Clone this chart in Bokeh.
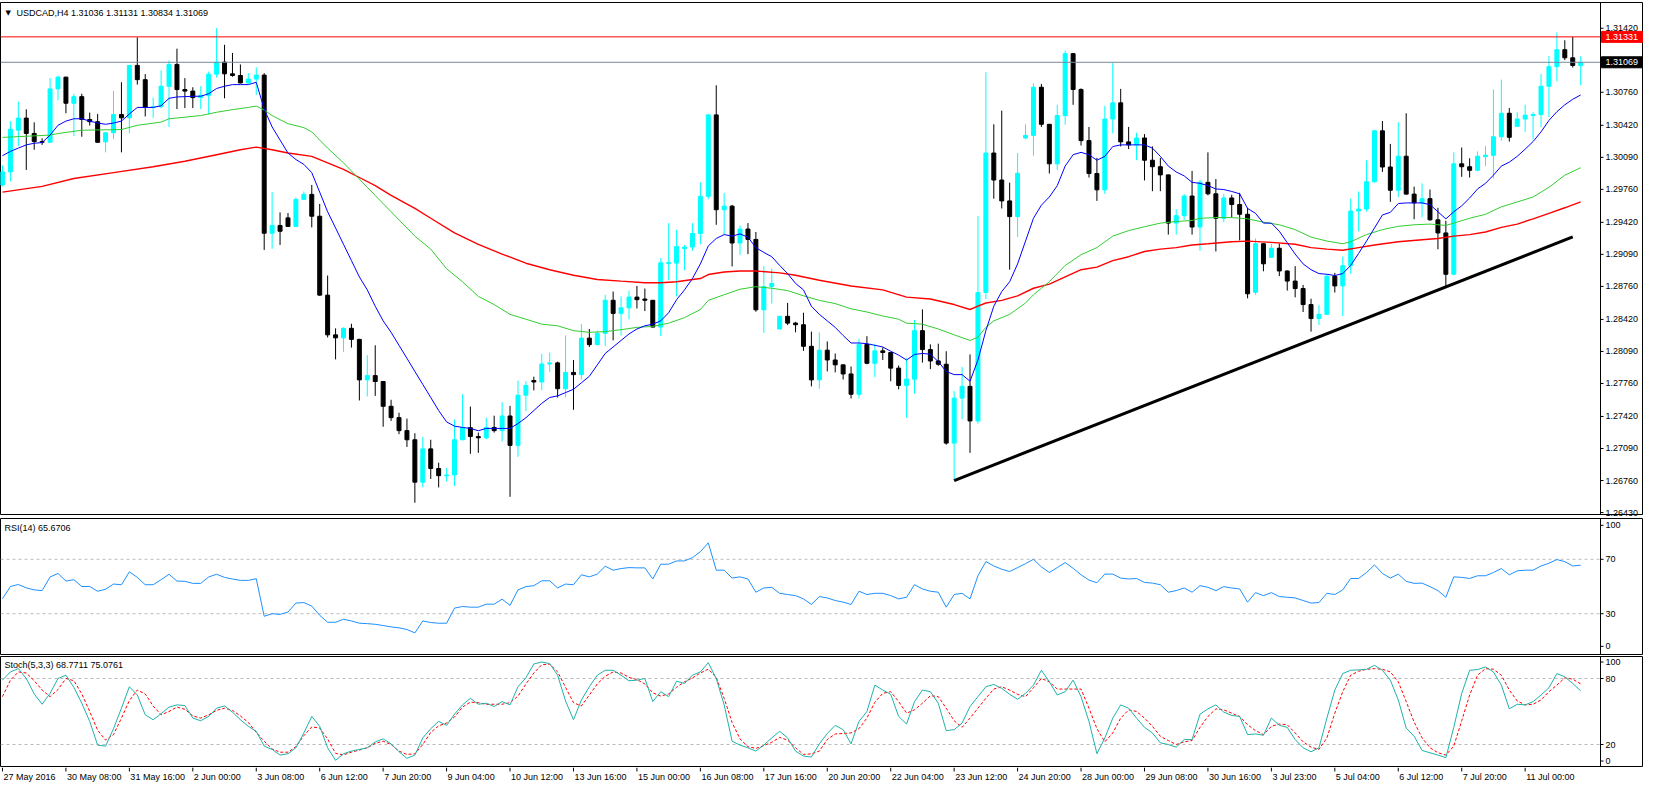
from bokeh.plotting import figure
from bokeh.models import Range1d, FixedTicker, PrintfTickFormatter, Span, Label, ColumnDataSource
from bokeh.layouts import column
from bokeh.embed import file_html
from bokeh.resources import INLINE
from bokeh.core.properties import value

# ---------------- data (USDCAD H4) ----------------
opens = [
1.29805, 1.29940, 1.30370, 1.30494, 1.30336, 1.30252, 1.30245, 1.30795, 1.30916, 1.30647,
1.30715, 1.30480, 1.30457, 1.30250, 1.30343, 1.30531, 1.30497, 1.31037, 1.30890, 1.30604,
1.30611, 1.30822, 1.31047, 1.30788, 1.30772, 1.30705, 1.30728, 1.30947, 1.31071, 1.30950,
1.30933, 1.30856, 1.30896, 1.30937, 1.29308, 1.29388, 1.29466, 1.29378, 1.29657, 1.29708,
1.29483, 1.28670, 1.28261, 1.28230, 1.28328, 1.28214, 1.27797, 1.27841, 1.27780, 1.27525,
1.27408, 1.27274, 1.27180, 1.26743, 1.27086, 1.26884, 1.26810, 1.26817, 1.27180, 1.27304,
1.27213, 1.27200, 1.27307, 1.27274, 1.27425, 1.27122, 1.27639, 1.27790, 1.27775, 1.27961,
1.27972, 1.27706, 1.27874, 1.27851, 1.28227, 1.28160, 1.28277, 1.28617, 1.28482, 1.28539,
1.28650, 1.28630, 1.28617, 1.28341, 1.28995, 1.29000, 1.29150, 1.29165, 1.29305, 1.29688,
1.30527, 1.29550, 1.29587, 1.29207, 1.29351, 1.29244, 1.28519, 1.28758, 1.28321, 1.28452,
1.28382, 1.28365, 1.28143, 1.27797, 1.28103, 1.28002, 1.27952, 1.27858, 1.27649, 1.28163,
1.27968, 1.28096, 1.28079, 1.27918, 1.27740, 1.27804, 1.28304, 1.28109, 1.27992, 1.27958,
1.27146, 1.27609, 1.27730, 1.27374, 1.28697, 1.30134, 1.29856, 1.29641, 1.29479, 1.30289,
1.30316, 1.30812, 1.30430, 1.30023, 1.30520, 1.31158, 1.30789, 1.30262, 1.29923, 1.29755,
1.30484, 1.30651, 1.30249, 1.30218, 1.30289, 1.30060, 1.29993, 1.29909, 1.29412, 1.29489,
1.29691, 1.29372, 1.29832, 1.29714, 1.29462, 1.29671, 1.29604, 1.29503, 1.28700, 1.29200,
1.29060, 1.29153, 1.28919, 1.28815, 1.28738, 1.28573, 1.28429, 1.28472, 1.28865, 1.28765,
1.28973, 1.29536, 1.29557, 1.29839, 1.30363, 1.29990, 1.29751, 1.30101, 1.29711, 1.29621,
1.29664, 1.29446, 1.29311, 1.28885, 1.30023, 1.29993, 1.29956, 1.30097, 1.30111, 1.30302,
1.30544, 1.30410, 1.30484, 1.30520, 1.30530, 1.30822, 1.31024, 1.31199, 1.31115, 1.31036,
]
highs = [
1.30007, 1.30464, 1.30664, 1.30584, 1.30450, 1.30286, 1.30906, 1.30930, 1.30920, 1.30745,
1.30745, 1.30551, 1.30537, 1.30350, 1.30775, 1.30863, 1.31040, 1.31326, 1.30947, 1.30705,
1.30987, 1.31088, 1.31209, 1.30906, 1.30812, 1.30822, 1.30974, 1.31420, 1.31249, 1.31165,
1.31047, 1.30957, 1.31017, 1.30957, 1.29731, 1.29523, 1.29516, 1.29677, 1.29738, 1.29805,
1.29610, 1.28872, 1.28328, 1.28338, 1.28375, 1.28220, 1.28052, 1.28153, 1.27785, 1.27592,
1.27458, 1.27398, 1.27247, 1.27210, 1.27180, 1.26944, 1.26887, 1.27388, 1.27649, 1.27522,
1.27254, 1.27408, 1.27428, 1.27569, 1.27529, 1.27790, 1.27783, 1.27830, 1.28066, 1.28079,
1.27985, 1.28254, 1.28002, 1.28372, 1.28321, 1.28304, 1.28674, 1.28707, 1.28657, 1.28717,
1.28765, 1.28738, 1.28620, 1.29050, 1.29412, 1.29345, 1.29187, 1.29412, 1.29832, 1.30537,
1.30832, 1.29721, 1.29600, 1.29388, 1.29412, 1.29321, 1.28969, 1.28943, 1.28455, 1.28590,
1.28395, 1.28489, 1.28294, 1.28287, 1.28193, 1.28069, 1.27955, 1.27935, 1.28220, 1.28247,
1.28170, 1.28130, 1.28082, 1.27945, 1.28019, 1.28415, 1.28523, 1.28163, 1.28170, 1.28092,
1.27683, 1.27931, 1.28059, 1.29486, 1.30967, 1.30430, 1.30571, 1.29829, 1.30134, 1.30430,
1.30853, 1.30846, 1.30433, 1.30631, 1.31189, 1.31165, 1.30800, 1.30403, 1.30084, 1.30621,
1.31064, 1.30795, 1.30403, 1.30343, 1.30329, 1.30202, 1.30084, 1.29912, 1.29556, 1.29711,
1.29950, 1.29856, 1.30141, 1.29866, 1.29714, 1.29704, 1.29724, 1.29570, 1.29254, 1.29203,
1.29200, 1.29200, 1.28926, 1.28969, 1.28775, 1.28633, 1.28566, 1.28885, 1.28899, 1.29066,
1.29664, 1.29738, 1.30060, 1.30369, 1.30464, 1.30228, 1.30453, 1.30544, 1.29788, 1.29822,
1.29758, 1.29570, 1.29436, 1.30141, 1.30191, 1.30080, 1.30151, 1.30208, 1.30789, 1.30890,
1.30597, 1.30554, 1.30631, 1.30554, 1.30947, 1.31135, 1.31377, 1.31296, 1.31331, 1.31131,
]
lows = [
1.29792, 1.29842, 1.30208, 1.29960, 1.30168, 1.30218, 1.30240, 1.30678, 1.30544, 1.30309,
1.30302, 1.30417, 1.30240, 1.30141, 1.30276, 1.30141, 1.30336, 1.30839, 1.30511, 1.30497,
1.30597, 1.30403, 1.30587, 1.30597, 1.30597, 1.30587, 1.30531, 1.30913, 1.30698, 1.30920,
1.30852, 1.30850, 1.30732, 1.29136, 1.29147, 1.29187, 1.29375, 1.29375, 1.29650, 1.29368,
1.28664, 1.28234, 1.28008, 1.28086, 1.28130, 1.27585, 1.27626, 1.27632, 1.27314, 1.27374,
1.27237, 1.27106, 1.26531, 1.26689, 1.26776, 1.26689, 1.26750, 1.26703, 1.27175, 1.27035,
1.27045, 1.27186, 1.27254, 1.27163, 1.26592, 1.27005, 1.27475, 1.27689, 1.27689, 1.27878,
1.27616, 1.27616, 1.27489, 1.27800, 1.28136, 1.28155, 1.28143, 1.28204, 1.28254, 1.28422,
1.28533, 1.28506, 1.28338, 1.28247, 1.28825, 1.28657, 1.28926, 1.29126, 1.29194, 1.29657,
1.29395, 1.29294, 1.28966, 1.29086, 1.29093, 1.28499, 1.28281, 1.28583, 1.28318, 1.28362,
1.28287, 1.28096, 1.27730, 1.27706, 1.27884, 1.27874, 1.27800, 1.27605, 1.27605, 1.27958,
1.27824, 1.28002, 1.27783, 1.27700, 1.27408, 1.27656, 1.27975, 1.27908, 1.27942, 1.27129,
1.26760, 1.27391, 1.27045, 1.27347, 1.28630, 1.29664, 1.29563, 1.28932, 1.29268, 1.30276,
1.30107, 1.30403, 1.29923, 1.29960, 1.30427, 1.30631, 1.30212, 1.29882, 1.29641, 1.29714,
1.30336, 1.30202, 1.30175, 1.30060, 1.29852, 1.29741, 1.29741, 1.29294, 1.29294, 1.29446,
1.29294, 1.29126, 1.29698, 1.29120, 1.29422, 1.29469, 1.29234, 1.28637, 1.28674, 1.28916,
1.29055, 1.28866, 1.28717, 1.28647, 1.28496, 1.28294, 1.28362, 1.28465, 1.28697, 1.28455,
1.28892, 1.29328, 1.29530, 1.29829, 1.29940, 1.29631, 1.29681, 1.29705, 1.29452, 1.29472,
1.29436, 1.29143, 1.28758, 1.28875, 1.29889, 1.29882, 1.29946, 1.30000, 1.29872, 1.30262,
1.30252, 1.30403, 1.30353, 1.30276, 1.30403, 1.30504, 1.30873, 1.31091, 1.31015, 1.30834,
]
closes = [
1.29940, 1.30380, 1.30494, 1.30336, 1.30252, 1.30245, 1.30795, 1.30916, 1.30647, 1.30715,
1.30480, 1.30457, 1.30245, 1.30343, 1.30531, 1.30497, 1.31037, 1.30890, 1.30604, 1.30611,
1.30822, 1.31047, 1.30788, 1.30772, 1.30705, 1.30728, 1.30947, 1.31071, 1.30950, 1.30933,
1.30856, 1.30896, 1.30937, 1.29308, 1.29388, 1.29328, 1.29378, 1.29657, 1.29708, 1.29483,
1.28670, 1.28261, 1.28230, 1.28328, 1.28214, 1.27797, 1.27841, 1.27780, 1.27525, 1.27408,
1.27274, 1.27180, 1.26743, 1.27086, 1.26884, 1.26810, 1.26817, 1.27180, 1.27304, 1.27213,
1.27200, 1.27307, 1.27274, 1.27425, 1.27122, 1.27639, 1.27740, 1.27775, 1.27961, 1.27972,
1.27706, 1.27874, 1.27851, 1.28227, 1.28160, 1.28277, 1.28617, 1.28482, 1.28539, 1.28650,
1.28623, 1.28617, 1.28341, 1.29003, 1.29006, 1.29170, 1.29165, 1.29305, 1.29688, 1.30527,
1.29550, 1.29587, 1.29207, 1.29351, 1.29244, 1.28519, 1.28758, 1.28791, 1.28452, 1.28382,
1.28365, 1.28143, 1.27797, 1.28103, 1.28002, 1.27952, 1.27858, 1.27649, 1.28163, 1.27968,
1.28096, 1.28079, 1.27918, 1.27740, 1.27804, 1.28304, 1.28109, 1.27992, 1.27958, 1.27146,
1.27609, 1.27730, 1.27374, 1.28697, 1.30134, 1.29856, 1.29641, 1.29479, 1.29926, 1.30316,
1.30812, 1.30430, 1.30023, 1.30520, 1.31158, 1.30789, 1.30262, 1.29923, 1.29755, 1.30484,
1.30651, 1.30249, 1.30218, 1.30289, 1.30060, 1.29993, 1.29909, 1.29412, 1.29489, 1.29691,
1.29372, 1.29832, 1.29714, 1.29462, 1.29671, 1.29604, 1.29503, 1.28684, 1.29200, 1.28993,
1.29153, 1.28919, 1.28815, 1.28738, 1.28573, 1.28429, 1.28472, 1.28865, 1.28765, 1.28973,
1.29536, 1.29557, 1.29839, 1.30363, 1.29990, 1.29751, 1.30101, 1.29711, 1.29621, 1.29664,
1.29446, 1.29311, 1.28885, 1.30023, 1.29993, 1.29956, 1.30101, 1.30111, 1.30302, 1.30544,
1.30296, 1.30484, 1.30524, 1.30530, 1.30822, 1.31024, 1.31199, 1.31115, 1.31036, 1.31069,
]

# fast moving average (blue), one value per bar
ma_fast = [
1.30107, 1.30151, 1.30185, 1.30218, 1.30235, 1.30242, 1.30319, 1.30420, 1.30463, 1.30487,
1.30487, 1.30463, 1.30443, 1.30430, 1.30443, 1.30463, 1.30537, 1.30604, 1.30604, 1.30604,
1.30621, 1.30698, 1.30712, 1.30715, 1.30719, 1.30719, 1.30745, 1.30799, 1.30822, 1.30839,
1.30839, 1.30839, 1.30863, 1.30587, 1.30403, 1.30268, 1.30134, 1.30067, 1.30017, 1.29932,
1.29731, 1.29529, 1.29362, 1.29194, 1.29026, 1.28858, 1.28724, 1.28556, 1.28405, 1.28287,
1.28153, 1.28019, 1.27884, 1.27750, 1.27616, 1.27481, 1.27364, 1.27320, 1.27307, 1.27297,
1.27273, 1.27297, 1.27297, 1.27297, 1.27297, 1.27347, 1.27407, 1.27481, 1.27555, 1.27616,
1.27632, 1.27666, 1.27700, 1.27767, 1.27834, 1.27951, 1.28069, 1.28136, 1.28203, 1.28270,
1.28321, 1.28354, 1.28371, 1.28405, 1.28489, 1.28623, 1.28724, 1.28841, 1.28992, 1.29177,
1.29254, 1.29294, 1.29278, 1.29301, 1.29267, 1.29160, 1.29110, 1.29066, 1.28976, 1.28892,
1.28791, 1.28724, 1.28556, 1.28472, 1.28405, 1.28338, 1.28254, 1.28177, 1.28177, 1.28170,
1.28153, 1.28136, 1.28092, 1.28052, 1.28002, 1.28059, 1.28069, 1.28062, 1.27985, 1.27884,
1.27851, 1.27851, 1.27783, 1.28002, 1.28304, 1.28556, 1.28707, 1.28808, 1.28992, 1.29227,
1.29462, 1.29597, 1.29681, 1.29798, 1.30000, 1.30117, 1.30141, 1.30117, 1.30060, 1.30100,
1.30201, 1.30218, 1.30218, 1.30218, 1.30218, 1.30185, 1.30100, 1.30000, 1.29939, 1.29899,
1.29832, 1.29822, 1.29798, 1.29764, 1.29758, 1.29738, 1.29714, 1.29563, 1.29513, 1.29412,
1.29412, 1.29328, 1.29210, 1.29093, 1.28992, 1.28932, 1.28892, 1.28885, 1.28872, 1.28892,
1.28976, 1.29100, 1.29227, 1.29362, 1.29496, 1.29523, 1.29614, 1.29620, 1.29620, 1.29620,
1.29603, 1.29529, 1.29456, 1.29529, 1.29590, 1.29671, 1.29764, 1.29822, 1.29906, 1.30000,
1.30040, 1.30100, 1.30174, 1.30252, 1.30352, 1.30470, 1.30560, 1.30631, 1.30688, 1.30732,
]

# medium moving average (green), read at these bars
ma_mid_bars = [0, 6, 7, 10, 15, 17, 20, 21, 25, 27, 29, 31, 32, 33, 34, 36, 38, 39, 40, 41,
               43, 45, 47, 49, 51, 52, 54, 56, 58, 60, 62, 64, 66, 68, 70, 72, 74, 76, 78, 80,
               82, 84, 86, 88, 89, 91, 93, 95, 97, 99, 101, 103, 105, 107, 109, 111, 113, 114, 116, 118,
               120, 122, 123, 124, 125, 127, 129, 130, 131, 132, 133, 134, 136, 138, 140, 142, 144, 146, 148, 150,
               151, 153, 155, 157, 159, 161, 163, 165, 167, 169, 170, 172, 174, 176, 178, 180, 182, 183, 185, 187,
               189, 191, 193, 195, 197, 199]
ma_mid = [1.30295, 1.30319, 1.30335, 1.30369, 1.30376, 1.30420, 1.30453, 1.30487, 1.30520, 1.30554,
          1.30581, 1.30604, 1.30618, 1.30577, 1.30520, 1.30436, 1.30396, 1.30352, 1.30268, 1.30185,
          1.30033, 1.29865, 1.29697, 1.29529, 1.29362, 1.29278, 1.29144, 1.28942, 1.28808, 1.28657,
          1.28573, 1.28472, 1.28422, 1.28371, 1.28354, 1.28304, 1.28287, 1.28294, 1.28314, 1.28338,
          1.28348, 1.28381, 1.28438, 1.28522, 1.28616, 1.28674, 1.28731, 1.28757, 1.28741, 1.28717,
          1.28663, 1.28616, 1.28583, 1.28529, 1.28496, 1.28455, 1.28422, 1.28381, 1.28371, 1.28321,
          1.28261, 1.28203, 1.28237, 1.28338, 1.28405, 1.28472, 1.28589, 1.28674, 1.28741, 1.28808,
          1.28892, 1.28976, 1.29086, 1.29160, 1.29278, 1.29335, 1.29375, 1.29412, 1.29429, 1.29439,
          1.29462, 1.29469, 1.29469, 1.29456, 1.29422, 1.29395, 1.29345, 1.29268, 1.29227, 1.29200,
          1.29220, 1.29294, 1.29345, 1.29379, 1.29395, 1.29402, 1.29388, 1.29412, 1.29462, 1.29503,
          1.29580, 1.29630, 1.29681, 1.29781, 1.29906, 1.29983]

# slow moving average (red), read at these bars
ma_slow_bars = [0, 5, 9, 14, 19, 23, 27, 30, 32, 34, 36, 39, 41, 43, 45, 47, 49, 52, 54, 57,
                60, 63, 66, 69, 72, 75, 78, 81, 83, 85, 87, 88, 89, 91, 93, 95, 98, 100, 103, 107,
                111, 114, 117, 120, 122, 123, 124, 126, 128, 130, 132, 134, 136, 138, 140, 142, 144, 146, 148, 150,
                152, 155, 157, 160, 163, 165, 167, 169, 171, 173, 176, 179, 181, 183, 185, 187, 189, 191, 193, 195,
                197, 199]
ma_slow = [1.29731, 1.29791, 1.29872, 1.29932, 1.29993, 1.30050, 1.30117, 1.30168, 1.30195, 1.30168,
           1.30134, 1.30100, 1.30033, 1.29966, 1.29882, 1.29798, 1.29697, 1.29563, 1.29462, 1.29311,
           1.29194, 1.29093, 1.28999, 1.28932, 1.28875, 1.28831, 1.28814, 1.28798, 1.28798, 1.28808,
           1.28831, 1.28841, 1.28882, 1.28909, 1.28919, 1.28919, 1.28899, 1.28875, 1.28824, 1.28764,
           1.28724, 1.28650, 1.28630, 1.28573, 1.28522, 1.28556, 1.28589, 1.28616, 1.28663, 1.28741,
           1.28784, 1.28858, 1.28932, 1.28959, 1.29026, 1.29066, 1.29120, 1.29144, 1.29160, 1.29187,
           1.29200, 1.29220, 1.29227, 1.29214, 1.29194, 1.29160, 1.29144, 1.29133, 1.29160, 1.29187,
           1.29220, 1.29241, 1.29254, 1.29278, 1.29294, 1.29321, 1.29368, 1.29402, 1.29456, 1.29513,
           1.29570, 1.29630]

rsi = [
41.0, 50.0, 51.5, 49.0, 47.5, 47.0, 57.0, 59.6, 54.0, 55.0,
50.0, 50.0, 46.5, 48.0, 51.8, 51.3, 60.8, 56.7, 51.3, 51.3,
55.0, 59.0, 54.0, 53.8, 52.3, 52.3, 57.0, 59.0, 56.7, 55.5,
54.5, 54.5, 55.7, 28.1, 30.0, 29.5, 31.2, 37.8, 38.2, 35.6,
28.8, 23.7, 23.7, 25.9, 24.7, 23.0, 22.7, 22.2, 21.3, 20.3,
19.6, 18.4, 15.9, 24.7, 23.5, 23.0, 23.0, 34.1, 35.3, 34.8,
34.8, 37.0, 37.0, 40.7, 36.1, 47.5, 49.9, 50.6, 54.2, 54.2,
48.9, 51.8, 51.3, 58.6, 57.1, 59.1, 64.9, 62.0, 63.2, 63.9,
63.7, 63.7, 55.5, 66.4, 66.4, 68.8, 68.8, 71.2, 75.6, 82.1,
62.0, 62.0, 56.2, 57.1, 55.5, 45.8, 48.9, 49.4, 45.0, 44.1,
43.3, 40.9, 36.8, 42.6, 41.6, 39.7, 38.5, 36.8, 46.5, 44.1,
45.0, 45.0, 43.3, 40.9, 42.1, 51.3, 48.2, 46.5, 45.8, 34.8,
44.1, 45.0, 40.9, 57.9, 68.3, 65.1, 62.7, 61.0, 63.9, 66.8,
70.0, 64.4, 60.3, 63.9, 67.6, 63.4, 58.6, 54.7, 52.8, 59.1,
59.1, 56.2, 55.5, 55.9, 53.0, 52.5, 51.3, 45.8, 47.0, 48.9,
45.8, 50.6, 49.4, 47.0, 49.9, 48.9, 48.2, 38.5, 45.5, 43.3,
45.5, 42.6, 42.1, 41.6, 39.7, 37.8, 38.2, 45.0, 44.1, 47.5,
55.9, 55.9, 60.3, 65.9, 59.6, 56.2, 59.1, 53.8, 52.3, 52.5,
49.9, 47.0, 42.1, 57.1, 56.7, 55.9, 57.9, 57.9, 60.3, 63.2,
58.6, 61.5, 62.0, 62.0, 65.1, 67.1, 69.8, 68.3, 65.1, 65.6706,
]

stoch_main = [
78.5, 86.0, 89.0, 80.0, 66.0, 56.6, 66.5, 80.0, 83.0, 72.0,
57.5, 41.0, 19.4, 18.5, 34.4, 53.0, 72.5, 65.0, 47.0, 42.5,
48.0, 54.0, 56.0, 55.4, 44.0, 41.6, 45.5, 53.0, 55.1, 49.4,
42.5, 36.5, 32.0, 18.5, 15.5, 10.4, 11.6, 17.0, 30.5, 45.5,
36.5, 17.0, 5.6, 11.6, 14.0, 15.5, 17.0, 22.4, 25.1, 20.6,
13.4, 7.4, 10.4, 26.0, 34.4, 41.0, 37.4, 47.6, 56.0, 62.0,
56.6, 57.5, 54.5, 59.0, 56.0, 72.5, 80.6, 93.2, 95.0, 93.5,
83.0, 59.6, 42.5, 60.5, 72.5, 83.0, 87.5, 87.5, 83.0, 77.9,
78.5, 80.0, 59.0, 68.0, 63.5, 77.6, 75.5, 83.0, 86.0, 94.4,
80.0, 56.0, 23.0, 19.4, 17.0, 14.0, 19.4, 26.0, 32.0, 26.0,
14.0, 9.5, 8.6, 20.6, 30.0, 37.4, 33.5, 20.6, 41.0, 50.0,
74.0, 69.5, 65.6, 45.5, 38.6, 59.0, 69.5, 68.0, 57.5, 32.6,
33.5, 39.5, 54.5, 63.5, 72.5, 74.6, 71.0, 65.6, 61.1, 66.5,
74.0, 87.5, 77.0, 65.0, 68.0, 78.5, 63.5, 41.0, 11.6, 26.0,
44.0, 56.0, 53.0, 44.0, 35.6, 30.5, 21.5, 20.0, 17.6, 24.5,
24.5, 47.6, 52.4, 56.0, 49.4, 46.4, 45.5, 29.0, 29.6, 28.4,
44.0, 37.4, 35.6, 24.5, 17.0, 13.4, 17.0, 44.0, 69.5, 84.5,
87.5, 87.8, 88.4, 92.0, 87.5, 78.5, 60.5, 35.0, 27.5, 14.6,
12.5, 10.4, 8.0, 35.6, 66.5, 87.5, 88.1, 90.5, 86.0, 74.0,
52.4, 56.6, 56.0, 59.0, 65.0, 71.6, 84.5, 81.5, 75.5, 68.7711,
]
stoch_signal = [
63.5, 78.5, 86.0, 85.0, 78.0, 69.5, 63.5, 70.0, 80.0, 78.0,
66.0, 50.0, 33.0, 24.0, 29.0, 44.0, 60.0, 69.5, 66.0, 55.0,
47.0, 50.0, 54.0, 52.0, 46.0, 44.0, 47.0, 51.0, 53.0, 51.0,
46.0, 40.0, 31.0, 23.0, 16.0, 13.0, 13.0, 18.0, 28.0, 36.0,
35.0, 25.0, 12.0, 10.5, 13.0, 15.0, 17.0, 21.0, 23.0, 20.0,
14.0, 11.0, 11.5, 20.0, 31.0, 37.0, 39.5, 45.0, 54.0, 58.5,
58.0, 56.5, 56.6, 56.6, 58.0, 64.0, 75.0, 85.0, 92.5, 93.0,
86.0, 72.0, 58.0, 55.0, 65.0, 75.0, 82.0, 86.0, 85.0, 81.0,
79.0, 75.0, 67.0, 64.0, 66.0, 72.0, 77.0, 80.5, 85.0, 88.5,
81.0, 62.0, 40.0, 25.0, 18.0, 16.5, 19.0, 22.0, 26.5, 24.0,
17.0, 11.0, 11.5, 14.0, 24.5, 29.6, 30.0, 30.5, 34.4, 44.0,
58.4, 66.5, 68.0, 59.0, 48.5, 51.5, 57.5, 64.4, 63.5, 53.0,
41.6, 35.6, 44.0, 53.0, 62.0, 70.4, 72.5, 69.5, 65.6, 63.5,
71.6, 80.0, 77.0, 70.4, 70.4, 70.4, 70.4, 53.0, 34.4, 22.4,
30.5, 44.0, 51.5, 50.0, 44.0, 36.5, 27.5, 23.6, 20.0, 22.4,
23.6, 35.6, 45.5, 52.4, 51.5, 48.5, 45.5, 38.0, 32.6, 29.0,
36.5, 38.6, 38.0, 30.5, 22.4, 17.6, 15.5, 26.0, 48.5, 68.0,
83.0, 86.6, 88.4, 89.0, 88.4, 86.0, 77.0, 59.0, 40.4, 26.0,
17.0, 12.5, 10.4, 18.5, 41.6, 65.0, 83.0, 89.0, 88.4, 83.0,
69.5, 59.6, 56.0, 56.6, 60.5, 68.0, 74.0, 80.6, 79.4, 75.0761,
]

trend_bars = [120, 198]
trend_prices = [1.26760, 1.29270]
resistance_level = 1.31331
bid_level = 1.31069

price_ticks = [1.31420, 1.30760, 1.30420, 1.30090, 1.29760, 1.29420, 1.29090, 1.28760,
               1.28420, 1.28090, 1.27760, 1.27420, 1.27090, 1.26760, 1.26430]
rsi_levels = [70, 30]
rsi_ticks = [6, 30, 70, 95]
rsi_tick_labels = {6: "0", 95: "100"}
stoch_levels = [80, 20]
stoch_ticks = [5, 20, 80, 95]
stoch_tick_labels = {5: "0", 95: "100"}
date_tick_bars = [0, 8, 16, 24, 32, 40, 48, 56, 64, 72, 80, 88, 96, 104, 112, 120,
                  128, 136, 144, 152, 160, 168, 176, 184, 192]
date_labels = ["27 May 2016", "30 May 08:00", "31 May 16:00", "2 Jun 00:00", "3 Jun 08:00",
               "6 Jun 12:00", "7 Jun 20:00", "9 Jun 04:00", "10 Jun 12:00", "13 Jun 16:00",
               "15 Jun 00:00", "16 Jun 08:00", "17 Jun 16:00", "20 Jun 20:00", "22 Jun 04:00",
               "23 Jun 12:00", "24 Jun 20:00", "28 Jun 00:00", "29 Jun 08:00", "30 Jun 16:00",
               "3 Jul 23:00", "5 Jul 04:00", "6 Jul 12:00", "7 Jul 20:00", "11 Jul 00:00"]

# ---------------- layout constants ----------------
FONT = "Liberation Sans"
FS = "9px"
FW = 1600             # width of the bar area in px
AXW = 43              # width of the price-scale strip (inside the frame) in px
FWT = FW + AXW
BULL = "#00FFFF"
BEAR = "#000000"
N = len(closes)
bars = list(range(N))

X0 = -0.25
AX_END = 201.5                      # where the price scale line sits (bar units)
PXB = FW / (AX_END - X0)            # px per bar
XEND = X0 + FWT / PXB
x_range = Range1d(X0, XEND)
TICK_LEN = 3 / PXB


def make_fig(fh, yr, top, bottom, ticks, overrides=None, fmt=None):
    p = figure(frame_width=FWT, frame_height=fh, x_range=x_range, y_range=yr,
               output_backend="svg", toolbar_location=None,
               x_axis_location=None, y_axis_location="right",
               min_border_left=0, min_border_right=0, min_border_top=top, min_border_bottom=bottom,
               background_fill_color="white", border_fill_color="white",
               outline_line_color="black", outline_line_width=1)
    p.xgrid.visible = False
    p.ygrid.visible = False
    ax = p.yaxis[0]
    ax.ticker = FixedTicker(ticks=ticks)
    if fmt is not None:
        ax.formatter = fmt
    if overrides:
        ax.major_label_overrides = overrides
    ax.axis_line_color = None
    ax.major_tick_line_color = None
    ax.major_tick_out = 0
    ax.major_tick_in = 0
    ax.minor_tick_line_color = None
    ax.major_label_text_font = FONT
    ax.major_label_text_font_size = FS
    ax.major_label_text_color = "black"
    ax.major_label_standoff = -(AXW - 5)
    # the scale line and its small tick marks
    p.add_layout(Span(location=AX_END, dimension="height", line_color="black", line_width=1))
    p.segment(x0=[AX_END] * len(ticks), x1=[AX_END + TICK_LEN] * len(ticks), y0=ticks, y1=ticks,
              line_color="black", line_width=1)
    return p


# ---------------- price pane ----------------
PH = 512
p1 = make_fig(PH, Range1d(1.26410, 1.31685), 2, 4, price_ticks,
              fmt=PrintfTickFormatter(format="%.5f"))


def candle_source(ids):
    return ColumnDataSource(dict(
        x=ids,
        h=[highs[i] for i in ids],
        l=[lows[i] for i in ids],
        top=[max(opens[i], closes[i]) for i in ids],
        bot=[min(opens[i], closes[i]) for i in ids],
    ))


bull_ids = [i for i in bars if closes[i] >= opens[i]]
bear_ids = [i for i in bars if closes[i] < opens[i]]
for ids, col in ((bull_ids, BULL), (bear_ids, BEAR)):
    s = candle_source(ids)
    p1.segment(x0="x", y0="l", x1="x", y1="h", source=s, line_color=col, line_width=1)
    p1.vbar(x="x", top="top", bottom="bot", width=0.5, source=s,
            fill_color=col, line_color=col, line_width=1)

p1.line(ma_slow_bars, ma_slow, line_color="#FF0000", line_width=1.4)
p1.line(ma_mid_bars, ma_mid, line_color="#32CD32", line_width=1)
p1.line(bars, ma_fast, line_color="#0000FF", line_width=1)
p1.line(trend_bars, trend_prices, line_color="black", line_width=3)

# horizontal levels (stop at the price scale)
p1.segment(x0=[X0], x1=[AX_END], y0=[resistance_level], y1=[resistance_level],
           line_color="#FF0000", line_width=1)
p1.segment(x0=[X0], x1=[AX_END], y0=[bid_level], y1=[bid_level],
           line_color="#778899", line_width=1)

# price boxes on the scale
box_levels = [resistance_level, bid_level]
box_colors = ["#FF0000", "#000000"]
p1.rect(x=[AX_END + 21.5 / PXB] * 2, y=box_levels, width=41, height=11,
        width_units="screen", height_units="screen",
        fill_color=box_colors, line_color=box_colors)
p1.text(x=[AX_END] * 2, y=box_levels, text=["%.5f" % v for v in box_levels],
        x_offset=5, text_color="white", text_font=value(FONT), text_font_size=FS,
        text_align="left", text_baseline="middle")

p1.add_layout(Label(x=5, y=PH - 10, x_units="screen", y_units="screen", text="\u25bc",
                    text_font="DejaVu Sans", text_font_size="7px", text_color="black",
                    text_baseline="middle"))
p1.add_layout(Label(x=16, y=PH - 10, x_units="screen", y_units="screen",
                    text="USDCAD,H4  %.5f %.5f %.5f %.5f" % (opens[-1], highs[-1], lows[-1], closes[-1]),
                    text_font=FONT, text_font_size=FS, text_color="black", text_baseline="middle"))

# ---------------- RSI pane ----------------
RH = 136
p2 = make_fig(RH, Range1d(0, 100), 0, 1, rsi_ticks, overrides=rsi_tick_labels)
p2.segment(x0=[X0] * 2, x1=[AX_END] * 2, y0=rsi_levels, y1=rsi_levels,
           line_color="#BBBBBB", line_dash="3 3", line_width=1)
p2.line(bars, rsi, line_color="#1E90FF", line_width=1)
p2.add_layout(Label(x=4, y=RH - 9, x_units="screen", y_units="screen",
                    text="RSI(14) %.4f" % rsi[-1], text_font=FONT, text_font_size=FS,
                    text_color="black", text_baseline="middle"))

# ---------------- Stochastic pane ----------------
SH = 110
p3 = make_fig(SH, Range1d(0, 100), 1, 1, stoch_ticks, overrides=stoch_tick_labels)
p3.segment(x0=[X0] * 2, x1=[AX_END] * 2, y0=stoch_levels, y1=stoch_levels,
           line_color="#BBBBBB", line_dash="3 3", line_width=1)
p3.line(bars, stoch_signal, line_color="#FF0000", line_dash="3 2", line_width=1)
p3.line(bars, stoch_main, line_color="#20B2AA", line_width=1)
p3.add_layout(Label(x=4, y=SH - 8, x_units="screen", y_units="screen",
                    text="Stoch(5,3,3) %.4f %.4f" % (stoch_main[-1], stoch_signal[-1]),
                    text_font=FONT, text_font_size=FS, text_color="black", text_baseline="middle"))

# ---------------- time axis strip ----------------
p4 = figure(frame_width=FWT, frame_height=18, x_range=x_range, y_range=Range1d(0, 1),
            output_backend="svg", toolbar_location=None,
            x_axis_location=None, y_axis_location=None,
            min_border_left=0, min_border_right=0, min_border_top=0, min_border_bottom=0,
            background_fill_color="white", border_fill_color="white", outline_line_color=None)
p4.xgrid.visible = False
p4.ygrid.visible = False
p4.segment(x0=date_tick_bars, y0=[1.0] * len(date_tick_bars), x1=date_tick_bars,
           y1=[0.78] * len(date_tick_bars), line_color="black", line_width=1)
p4.text(x=date_tick_bars, y=[0.45] * len(date_tick_bars), text=date_labels,
        text_font=value(FONT), text_font_size=FS, text_color="black",
        text_align="left", text_baseline="middle", x_offset=1)

layout = column(p1, p2, p3, p4, spacing=0)
open("out.html", "w").write(file_html(layout, INLINE))
